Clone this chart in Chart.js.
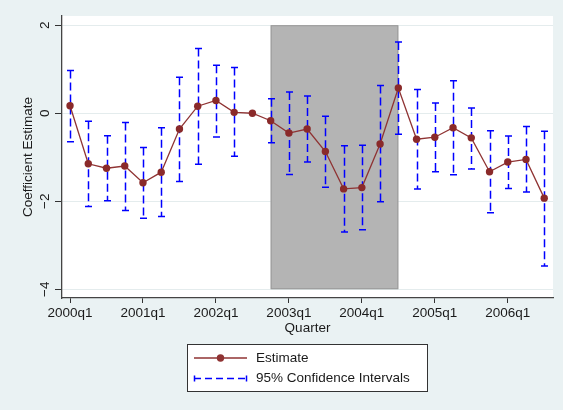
<!DOCTYPE html>
<html>
<head>
<meta charset="utf-8">
<script src="https://cdn.jsdelivr.net/npm/chart.js@4/dist/chart.umd.min.js"></script>
<style>
  html, body { margin: 0; padding: 0; background: #eaf2f3; }
  canvas { display: block; }
</style>
</head>
<body>
<canvas id="chart" width="563" height="410"></canvas>
<script>
// Data
const quarters = [
    '2000q1', '2000q2', '2000q3', '2000q4',
    '2001q1', '2001q2', '2001q3', '2001q4',
    '2002q1', '2002q2', '2002q3', '2002q4',
    '2003q1', '2003q2', '2003q3', '2003q4',
    '2004q1', '2004q2', '2004q3', '2004q4',
    '2005q1', '2005q2', '2005q3', '2005q4',
    '2006q1', '2006q2', '2006q3'
];
const estimate = [0.17, -1.15, -1.25, -1.20, -1.58, -1.34, -0.36, 0.16, 0.29, 0.02, 0.00, -0.17, -0.45,
    -0.36, -0.87, -1.72, -1.69, -0.70, 0.575, -0.59, -0.545, -0.33, -0.56, -1.33, -1.11, -1.05, -1.93];
const ciHigh = [0.97, -0.18, -0.51, -0.21, -0.78, -0.33, 0.82, 1.47, 1.09, 1.04, null, 0.33, 0.48,
    0.39, -0.07, -0.74, -0.73, 0.63, 1.62, 0.54, 0.23, 0.74, 0.12, -0.40, -0.52, -0.30, -0.41];
const ciLow = [-0.65, -2.12, -1.99, -2.21, -2.39, -2.35, -1.55, -1.16, -0.54, -0.98, null, -0.67, -1.39,
    -1.11, -1.68, -2.70, -2.65, -2.01, -0.48, -1.72, -1.33, -1.40, -1.27, -2.26, -1.71, -1.79, -3.47];

const xTickPositions = [0, 4, 8, 12, 16, 20, 24];
const xTickLabels = ['2000q1', '2001q1', '2002q1', '2003q1', '2004q1', '2005q1', '2006q1'];
const yTickValues = [-4, -2, 0, 2];

// shaded period: 2002q4 .. 2004q3
const shadeFrom = 11;
const shadeTo = 18;
const shadeTop = 2;
const shadeBottom = -4;

// Styles
const FONT = "'Liberation Sans', Arial, sans-serif";
const TEXT = '#1a1a1a';
const MAROON = '#8f3333';
const BLUE = '#0000ff';
const BG = '#eaf2f3';

// Backgrounds: outer region + white plot region
const backgroundPlugin = {
    id: 'backgrounds',
    beforeDraw(chart) {
        const { ctx, chartArea: a } = chart;
        ctx.save();
        ctx.fillStyle = BG;
        ctx.fillRect(0, 0, chart.width, chart.height);
        ctx.fillStyle = '#ffffff';
        ctx.fillRect(a.left, a.top, a.right - a.left, a.bottom - a.top);
        ctx.restore();
    }
};

// Shaded period and the confidence-interval caps
const intervalPlugin = {
    id: 'intervals',
    beforeDatasetsDraw(chart) {
        const { ctx, scales: { x, y } } = chart;
        ctx.save();

        const sx0 = x.getPixelForValue(shadeFrom);
        const sx1 = x.getPixelForValue(shadeTo);
        const sy0 = y.getPixelForValue(shadeTop);
        const sy1 = y.getPixelForValue(shadeBottom);
        ctx.fillStyle = '#b4b4b4';
        ctx.fillRect(sx0, sy0, sx1 - sx0, sy1 - sy0);
        ctx.strokeStyle = '#9a9a9a';
        ctx.lineWidth = 1;
        ctx.strokeRect(sx0 + 0.5, sy0 + 0.5, sx1 - sx0 - 1, sy1 - sy0 - 1);

        ctx.strokeStyle = BLUE;
        ctx.lineWidth = 1.5;
        for (let i = 0; i < quarters.length; i++) {
            if (ciHigh[i] === null || ciLow[i] === null) continue;
            const px = Math.round(x.getPixelForValue(i)) + 0.5;
            const top = y.getPixelForValue(ciHigh[i]);
            const bot = y.getPixelForValue(ciLow[i]);

            ctx.setLineDash([8, 4]);
            ctx.beginPath();
            ctx.moveTo(px, top);
            ctx.lineTo(px, bot);
            ctx.stroke();

            ctx.setLineDash([]);
            ctx.beginPath();
            ctx.moveTo(px - 3.5, top);
            ctx.lineTo(px + 3.5, top);
            ctx.moveTo(px - 3.5, bot);
            ctx.lineTo(px + 3.5, bot);
            ctx.stroke();
        }
        ctx.restore();
    }
};

// Stata-like legend box under the plot
const legendPlugin = {
    id: 'boxLegend',
    afterDraw(chart) {
        const { ctx } = chart;
        const bx = 187.5, by = 344.5, bw = 240, bh = 47;
        ctx.save();
        ctx.fillStyle = '#ffffff';
        ctx.fillRect(bx, by, bw, bh);
        ctx.strokeStyle = '#333333';
        ctx.lineWidth = 1;
        ctx.strokeRect(bx, by, bw, bh);

        // Estimate
        const r1 = 358;
        ctx.strokeStyle = MAROON;
        ctx.lineWidth = 1.3;
        ctx.beginPath();
        ctx.moveTo(194, r1);
        ctx.lineTo(247, r1);
        ctx.stroke();
        ctx.fillStyle = MAROON;
        ctx.beginPath();
        ctx.arc(220.5, r1, 3.7, 0, Math.PI * 2);
        ctx.fill();

        // CI
        const r2 = 378.5;
        ctx.strokeStyle = BLUE;
        ctx.lineWidth = 1.5;
        ctx.setLineDash([7, 4]);
        ctx.beginPath();
        ctx.moveTo(194, r2);
        ctx.lineTo(247, r2);
        ctx.stroke();
        ctx.setLineDash([]);
        ctx.beginPath();
        ctx.moveTo(194.5, r2 - 3);
        ctx.lineTo(194.5, r2 + 3);
        ctx.moveTo(246.5, r2 - 3);
        ctx.lineTo(246.5, r2 + 3);
        ctx.stroke();

        ctx.fillStyle = TEXT;
        ctx.font = '13.5px ' + FONT;
        ctx.textBaseline = 'middle';
        ctx.textAlign = 'left';
        ctx.fillText('Estimate', 256, r1);
        ctx.fillText('95% Confidence Intervals', 256, r2);
        ctx.restore();
    }
};

const ctx = document.getElementById('chart').getContext('2d');
new Chart(ctx, {
    type: 'line',
    data: {
        datasets: [{
            label: 'Estimate',
            data: estimate.map((v, i) => ({ x: i, y: v })),
            borderColor: MAROON,
            borderWidth: 1.3,
            backgroundColor: MAROON,
            pointBackgroundColor: '#8a2a2a',
            pointBorderColor: '#8a2a2a',
            pointRadius: 3.7,
            pointBorderWidth: 0,
            tension: 0,
            fill: false
        }]
    },
    options: {
        responsive: false,
        devicePixelRatio: 1,
        animation: false,
        events: [],
        layout: { padding: { left: 10, right: 10, top: 16, bottom: 72 } },
        plugins: {
            legend: { display: false },
            tooltip: { enabled: false }
        },
        scales: {
            x: {
                type: 'linear',
                min: -0.44,
                max: 26.48,
                afterBuildTicks(scale) {
                    scale.ticks = xTickPositions.map(v => ({ value: v }));
                },
                afterFit(scale) { scale.height = 40; },
                grid: { drawOnChartArea: false, drawTicks: true, tickLength: 5, tickColor: '#333', tickWidth: 1 },
                border: { display: true, color: '#444', width: 1.3 },
                ticks: {
                    color: TEXT,
                    font: { family: FONT, size: 13.5 },
                    padding: 2,
                    maxRotation: 0,
                    autoSkip: false,
                    callback: (v) => xTickLabels[xTickPositions.indexOf(v)]
                },
                title: {
                    display: true,
                    text: 'Quarter',
                    color: TEXT,
                    font: { family: FONT, size: 13.5 },
                    padding: { top: 0, bottom: 2 }
                }
            },
            y: {
                min: -4.2,
                max: 2.21,
                afterBuildTicks(scale) {
                    scale.ticks = yTickValues.map(v => ({ value: v }));
                },
                afterFit(scale) { scale.width = 52; },
                grid: { color: '#e4eced', lineWidth: 1, drawTicks: true, tickLength: 7, tickColor: '#333', tickWidth: 1 },
                border: { display: true, color: '#444', width: 1.3 },
                ticks: {
                    color: TEXT,
                    font: { family: FONT, size: 13.5 },
                    padding: 2,
                    minRotation: 90,
                    maxRotation: 90,
                    crossAlign: 'center',
                    callback: (v) => (v < 0 ? '\u2212' + Math.abs(v) : String(v))
                },
                title: {
                    display: true,
                    text: 'Coefficient Estimate',
                    color: TEXT,
                    font: { family: FONT, size: 13.5 },
                    padding: { top: 10, bottom: 0 }
                }
            }
        }
    },
    plugins: [backgroundPlugin, intervalPlugin, legendPlugin]
});
</script>
</body>
</html>
